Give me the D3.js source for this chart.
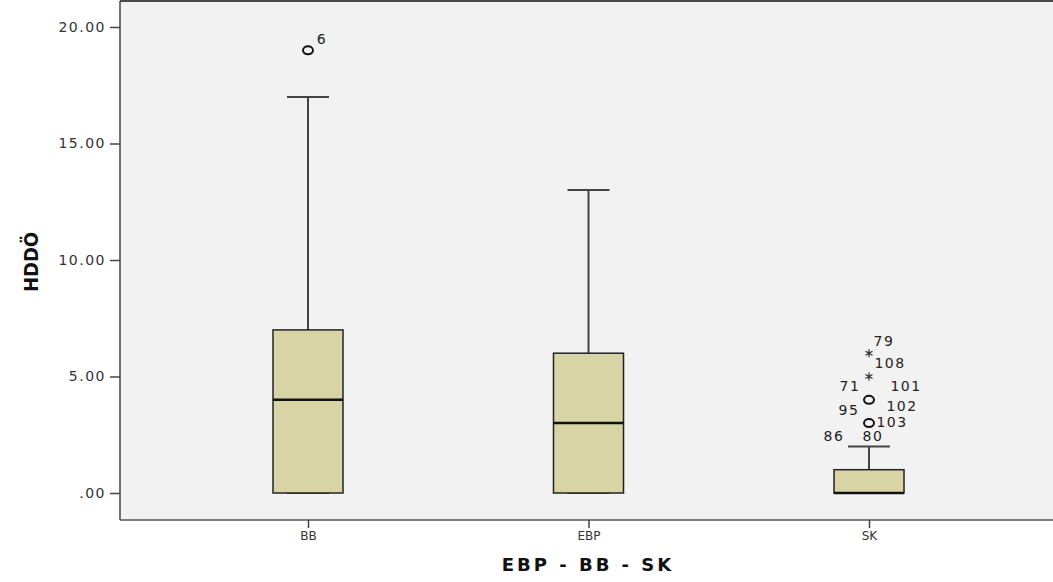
<!DOCTYPE html>
<html>
<head>
<meta charset="utf-8">
<script src="https://cdn.jsdelivr.net/npm/d3@7"></script>
<style>
  body { margin: 0; background: #fff; }
  text { font-family: "DejaVu Sans", sans-serif; }
</style>
</head>
<body>
<svg id="chart" width="1053" height="582"></svg>
<script>
// data
var groups = ["BB", "EBP", "SK"];
var mins = [0, 0, 0];
var q1s = [0, 0, 0];
var medians = [4, 3, 0];
var q3s = [7, 6, 1];
var maxs = [17, 13, 2];
var yTicks = [0, 5, 10, 15, 20];

// outliers: group, value, kind (o = outlier, * = extreme)
var outGroup = ["BB", "SK", "SK", "SK", "SK"];
var outValue = [19, 6, 5, 4, 3];
var outKind = ["o", "*", "*", "o", "o"];

// case labels next to the outlier points
var labelGroup = ["BB", "SK", "SK", "SK", "SK", "SK", "SK", "SK", "SK", "SK"];
var labelValue = [19, 6, 5, 4, 4, 4, 3, 3, 3, 3];
var labelText = ["6", "79", "108", "71", "101", "102", "95", "103", "86", "80"];
// label offsets (px) from the point
var labelDx = [14, 15, 21, -19, 37, 33, -20, 23, -35, 4];
var labelDy = [-10, -11, -13, -13, -13, 7, -12, 0, 14, 14];

var svg = d3.select("#chart");
var pl = 120, pt = 1, pr = 1053, pb = 520;

var x = d3.scalePoint()
    .domain(groups)
    .range([308, 869]);

var y = d3.scaleLinear()
    .domain([0, 20])
    .range([493, 27]);

// plot background + frame
svg.append("rect")
    .attr("x", pl).attr("y", pt)
    .attr("width", pr - pl).attr("height", pb - pt)
    .attr("fill", "#f2f2f2");
svg.append("line")
    .attr("x1", pl).attr("x2", pr).attr("y1", pt).attr("y2", pt)
    .attr("stroke", "#111").attr("stroke-width", 1.5);

// y axis
var yAxis = svg.append("g")
    .attr("transform", "translate(" + pl + ",0)")
    .call(d3.axisLeft(y).tickValues(yTicks).tickSize(10).tickFormat(function(d) {
        return d === 0 ? ".00" : d.toFixed(2);
    }));
yAxis.select(".domain").attr("d", "M0," + pt + "V" + pb).attr("stroke", "#444").attr("stroke-width", 1.5);
yAxis.selectAll(".tick line").attr("stroke", "#444").attr("stroke-width", 1.5);
yAxis.selectAll(".tick text")
    .attr("x", -14)
    .attr("fill", "#333")
    .style("font-size", "14px")
    .style("letter-spacing", "1.5px")
    .style("font-family", "DejaVu Sans");

// x axis
var xAxis = svg.append("g")
    .attr("transform", "translate(0," + pb + ")")
    .call(d3.axisBottom(x).tickSize(8));
xAxis.select(".domain").attr("d", "M" + pl + ",0H" + pr).attr("stroke", "#555").attr("stroke-width", 1.5);
xAxis.selectAll(".tick line").attr("stroke", "#444").attr("stroke-width", 1.5);
xAxis.selectAll(".tick text")
    .attr("y", 11)
    .attr("fill", "#333")
    .style("font-size", "12px")
    .style("font-family", "DejaVu Sans");

// axis titles
svg.append("text")
    .attr("transform", "translate(38,262) rotate(-90)")
    .attr("text-anchor", "middle")
    .style("font-size", "20px")
    .style("font-weight", "bold")
    .style("font-family", "DejaVu Sans Condensed")
    .attr("fill", "#111")
    .text("HDDÖ");

svg.append("text")
    .attr("x", 588).attr("y", 571)
    .attr("text-anchor", "middle")
    .style("font-size", "18px")
    .style("font-weight", "bold")
    .style("letter-spacing", "3px")
    .attr("fill", "#111")
    .text("EBP - BB - SK");

// boxes
var boxW = 70, capW = 42;
var boxes = svg.append("g")
    .selectAll("g")
    .data(groups)
    .enter()
    .append("g");

// whisker stems
boxes.append("line")
    .attr("x1", function(d) { return x(d); })
    .attr("x2", function(d) { return x(d); })
    .attr("y1", function(d, i) { return y(q3s[i]); })
    .attr("y2", function(d, i) { return y(maxs[i]); })
    .attr("stroke", "#444").attr("stroke-width", 2);
boxes.append("line")
    .attr("x1", function(d) { return x(d); })
    .attr("x2", function(d) { return x(d); })
    .attr("y1", function(d, i) { return y(q1s[i]); })
    .attr("y2", function(d, i) { return y(mins[i]); })
    .attr("stroke", "#444").attr("stroke-width", 2);
// caps
boxes.append("line")
    .attr("x1", function(d) { return x(d) - capW / 2; })
    .attr("x2", function(d) { return x(d) + capW / 2; })
    .attr("y1", function(d, i) { return y(maxs[i]); })
    .attr("y2", function(d, i) { return y(maxs[i]); })
    .attr("stroke", "#444").attr("stroke-width", 2);
boxes.append("line")
    .attr("x1", function(d) { return x(d) - capW / 2; })
    .attr("x2", function(d) { return x(d) + capW / 2; })
    .attr("y1", function(d, i) { return y(mins[i]); })
    .attr("y2", function(d, i) { return y(mins[i]); })
    .attr("stroke", "#444").attr("stroke-width", 2);
// box
boxes.append("rect")
    .attr("x", function(d) { return x(d) - boxW / 2; })
    .attr("y", function(d, i) { return y(q3s[i]); })
    .attr("width", boxW)
    .attr("height", function(d, i) { return y(q1s[i]) - y(q3s[i]); })
    .attr("fill", "#d9d4a6")
    .attr("stroke", "#222").attr("stroke-width", 1.5);
// median
boxes.append("line")
    .attr("x1", function(d) { return x(d) - boxW / 2; })
    .attr("x2", function(d) { return x(d) + boxW / 2; })
    .attr("y1", function(d, i) { return y(medians[i]); })
    .attr("y2", function(d, i) { return y(medians[i]); })
    .attr("stroke", "#111").attr("stroke-width", 2.5);

// outliers
var pts = svg.append("g");
outValue.forEach(function(v, i) {
    var cx = x(outGroup[i]), cy = y(v);
    if (outKind[i] === "o") {
        pts.append("ellipse")
            .attr("cx", cx).attr("cy", cy)
            .attr("rx", 5).attr("ry", 4)
            .attr("fill", "none")
            .attr("stroke", "#111").attr("stroke-width", 2);
    } else {
        pts.append("path")
            .attr("transform", "translate(" + cx + "," + cy + ")")
            .attr("d", d3.symbol().type(d3.symbolAsterisk).size(45)())
            .attr("fill", "none")
            .attr("stroke", "#333").attr("stroke-width", 1.3);
    }
});

// case labels
labelText.forEach(function(t, i) {
    svg.append("text")
        .attr("x", x(labelGroup[i]) + labelDx[i])
        .attr("y", y(labelValue[i]) + labelDy[i])
        .attr("text-anchor", "middle")
        .attr("dominant-baseline", "middle")
        .style("font-size", "14px")
        .style("letter-spacing", "1.5px")
        .attr("fill", "#222")
        .text(t);
});
</script>
</body>
</html>
